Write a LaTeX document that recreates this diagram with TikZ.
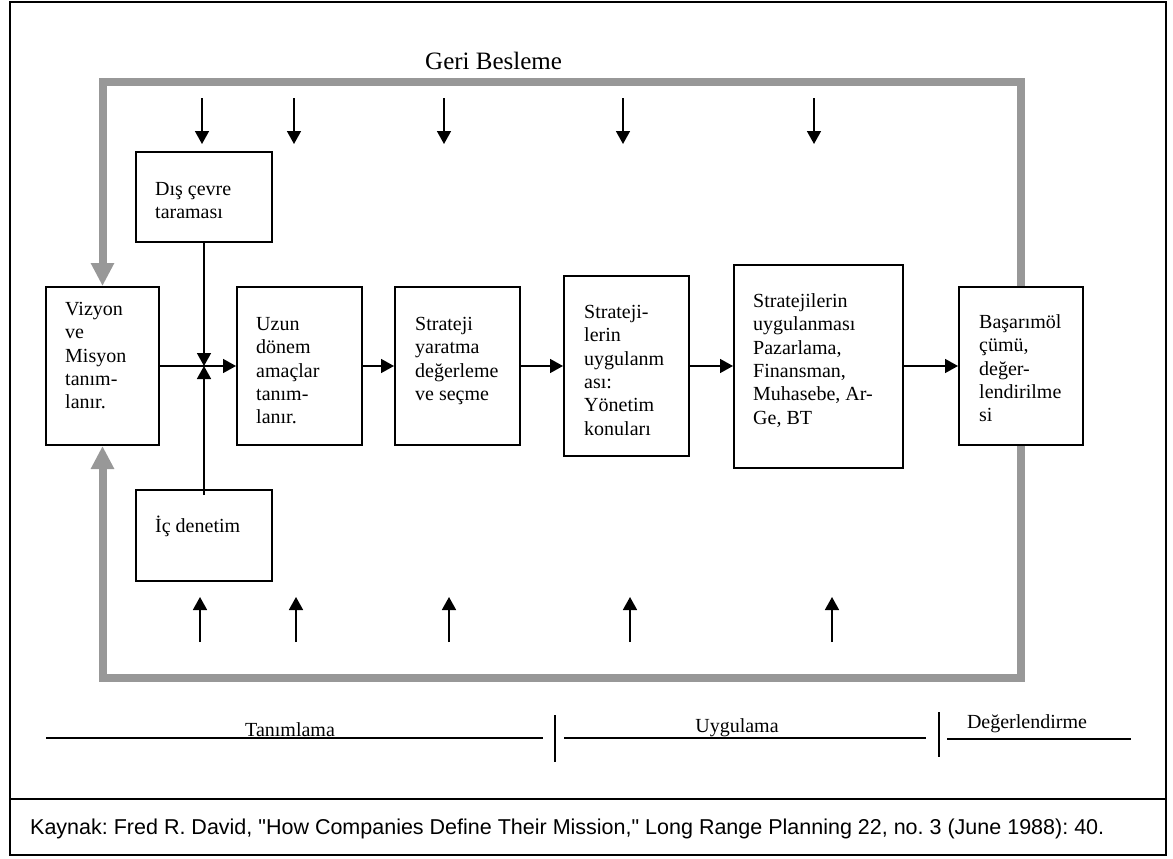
\documentclass[tikz,border=0pt]{standalone}
\usepackage{fontspec}
\setmainfont{Liberation Serif}
\newfontfamily\capfont{Liberation Sans}
\usetikzlibrary{arrows.meta}
\definecolor{loopgray}{RGB}{152,152,152}
\begin{document}
\frenchspacing
\begin{tikzpicture}[x=1pt,y=-1pt,
  box/.style={draw, line width=2pt, inner sep=0pt},
  boxtext/.style={anchor=north west, align=left, inner sep=0pt, font=\fontsize{20}{23.3}\selectfont},
  flow/.style={line width=1.6pt, -{Triangle[width=14pt,length=13pt]}},
  feedback/.style={draw=loopgray, line width=8pt, -{Triangle[width=22pt,length=23pt]}},
  phase/.style={line width=1.6pt},
  phasetext/.style={anchor=base, inner sep=0pt, font=\fontsize{20}{24}\selectfont}]

\useasboundingbox (0,0) rectangle (1173,859);

% outer frame and source line
\draw[line width=2.5pt] (10,2) rectangle (1166,855);
\coordinate (sepl) at (10,799);
\coordinate (sepr) at (1166,799);
\draw[line width=2.5pt] (sepl) -- (sepr);
\node[anchor=base west, inner sep=0pt, font=\capfont\fontsize{21.5}{25}\selectfont] (source) at (30,834)
  {Kaynak: Fred R. David, "How Companies Define Their Mission," Long Range Planning 22, no. 3 (June 1988): 40.};

% boxes
\node[box, minimum width=113pt, minimum height=158pt] (viz) at (102.5,366) {};
\node[box, minimum width=136pt, minimum height=90pt]  (dis) at (204,197) {};
\node[box, minimum width=136pt, minimum height=91pt]  (ic)  at (204,535.5) {};
\node[box, minimum width=125pt, minimum height=158pt] (uzun) at (299.5,366) {};
\node[box, minimum width=125pt, minimum height=158pt] (str) at (457.5,366) {};
\node[box, minimum width=125pt, minimum height=180pt] (yon) at (626.5,366) {};
\node[box, minimum width=169pt, minimum height=203pt] (bol) at (818.5,366) {};
\node[box, minimum width=124pt, minimum height=158pt] (bas) at (1021,366) {};

% box texts
\node[boxtext] (vizt)  at (65,299)  {\strut Vizyon\\ve\\Misyon\\tanım-\\lanır.};
\node[boxtext] (dist)  at (155,179) {\strut Dış çevre\\taraması};
\node[boxtext] (ict)   at (155,516) {\strut İç denetim};
\node[boxtext] (uzunt) at (256,314) {\strut Uzun\\dönem\\amaçlar\\tanım-\\lanır.};
\node[boxtext] (strt)  at (415,314) {\strut Strateji\\yaratma\\değerleme\\ve seçme};
\node[boxtext] (yont)  at (584,302) {\strut Strateji-\\lerin\\uygulanm\\ası:\\Yönetim\\konuları};
\node[boxtext] (bolt)  at (753,291) {\strut Stratejilerin\\uygulanması\\Pazarlama,\\Finansman,\\Muhasebe, Ar-\\Ge, BT};
\node[boxtext] (bast)  at (979,312) {\strut Başarımöl\\çümü,\\değer-\\lendirilme\\si};

% feedback loop
\node[anchor=base west, inner sep=0pt, font=\fontsize{25}{30}\selectfont] (geri) at (425,70) {Geri Besleme};
\coordinate (gtop) at (0,82);
\coordinate (gbot) at (0,678);
\draw[feedback] (bas.north) -- (bas.north |- gtop) -| (viz.north);
\draw[feedback] (bas.south) -- (bas.south |- gbot) -| (viz.south);

% main flow
\coordinate (jn) at (dis.south |- viz.east);
\draw[flow] (viz.east) -- (uzun.west);
\draw[flow] (dis.south) -- (jn);
\draw[flow] ([yshift=-6pt]ic.north) -- (jn);
\draw[flow] (uzun.east) -- (str.west);
\draw[flow] (str.east) -- (yon.west);
\draw[flow] (yon.east) -- (bol.west);
\draw[flow] (bol.east) -- (bas.west);

% environmental inputs
\foreach \i/\x in {1/202,2/294,3/444,4/623,5/814} {
  \coordinate (ta\i) at (\x,98);
  \coordinate (tb\i) at (\x,144);
  \draw[flow] (ta\i) -- (tb\i);
}
\foreach \i/\x in {1/200,2/296,3/449,4/630,5/832} {
  \coordinate (ba\i) at (\x,642);
  \coordinate (bb\i) at (\x,597);
  \draw[flow] (ba\i) -- (bb\i);
}

% phases
\coordinate (p1a) at (46,738);  \coordinate (p1b) at (543,738);
\coordinate (p2a) at (564,738); \coordinate (p2b) at (926,738);
\coordinate (p3a) at (947,739); \coordinate (p3b) at (1131,739);
\coordinate (v1a) at (555,715); \coordinate (v1b) at (555,762);
\coordinate (v2a) at (939,712); \coordinate (v2b) at (939,757);
\draw[phase] (p1a) -- (p1b);
\draw[phase] (p2a) -- (p2b);
\draw[phase] (p3a) -- (p3b);
\draw[phase] (v1a) -- (v1b);
\draw[phase] (v2a) -- (v2b);
\node[phasetext] (tan) at (290,736)  {Tanımlama};
\node[phasetext] (uyg) at (737,732)  {Uygulama};
\node[phasetext] (deg) at (1027,728) {Değerlendirme};
\end{tikzpicture}
\end{document}
